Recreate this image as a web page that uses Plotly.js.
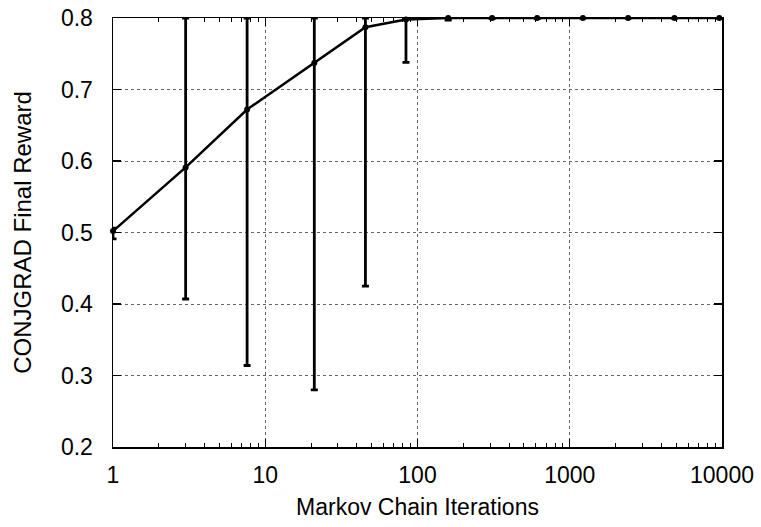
<!DOCTYPE html>
<html>
<head>
<meta charset="utf-8">
<script src="https://cdn.plot.ly/plotly-3.0.1.min.js"></script>
<style>html,body{margin:0;padding:0;background:#fff;overflow:hidden;}#chart{width:761px;height:527px;}</style>
</head>
<body>
<div id="chart"></div>
<script>
var iterations = [1, 3, 7.6, 21, 45.5, 84, 159, 309, 611, 1220, 2420, 4870, 9600];
var reward     = [0.502, 0.591, 0.672, 0.737, 0.787, 0.798, 0.800, 0.800, 0.800, 0.800, 0.800, 0.800, 0.800];
var rewardHigh = [0.506, 0.800, 0.800, 0.800, 0.800, 0.800, 0.800, 0.800, 0.800, 0.800, 0.800, 0.800, 0.800];
var rewardLow  = [0.491, 0.407, 0.314, 0.280, 0.425, 0.738, 0.797, 0.799, 0.799, 0.800, 0.800, 0.800, 0.800];
var yTicks = [0.2, 0.3, 0.4, 0.5, 0.6, 0.7, 0.8];
var yTickText = ["0.2", "0.3", "0.4", "0.5", "0.6", "0.7", "0.8"];
var xTicks = [1, 10, 100, 1000, 10000];
var xTickText = ["1", "10", "100", "1000", "10000"];

var plus = rewardHigh.map(function(v, i){ return Math.max(0, v - reward[i]); });
var minus = rewardLow.map(function(v, i){ return Math.max(0, reward[i] - v); });

// minor log ticks at 2..9 of each decade
var minorX = [];
[1, 10, 100, 1000].forEach(function(d){ for (var k = 2; k <= 9; k++) minorX.push(k * d); });

var FONT = "Liberation Sans, Arial, sans-serif";
var trace = {
  x: iterations, y: reward, type: 'scatter', mode: 'lines+markers',
  line: {color: '#000', width: 2.5},
  marker: {color: '#000', size: 6, symbol: 'circle'},
  error_y: {type: 'data', symmetric: false, array: plus, arrayminus: minus,
            color: '#000', thickness: 2.8, width: 3.5},
  cliponaxis: false, showlegend: false
};
var layout = {
  width: 761, height: 527,
  margin: {l: 113, r: 39, t: 18, b: 80},
  paper_bgcolor: '#fff', plot_bgcolor: '#fff',
  font: {family: FONT, size: 23, color: '#000'},
  showlegend: false,
  xaxis: {
    type: 'log', range: [0, 4],
    tickvals: xTicks, ticktext: xTickText,
    ticks: 'inside', ticklen: 8, tickwidth: 1.2, tickcolor: '#000',
    showline: true, linecolor: '#000', linewidth: 1.5, mirror: 'allticks',
    showgrid: true, gridcolor: '#666', griddash: 'dot', gridwidth: 1,
    zeroline: false,
    ticklabelstandoff: 7,
    minor: {tickmode: 'array', tickvals: minorX, ticks: 'inside', ticklen: 4, tickwidth: 1, tickcolor: '#000', showgrid: false},
    tickfont: {family: FONT, size: 23, color: '#000'},
    title: {text: 'Markov Chain Iterations', font: {family: FONT, size: 23, color: '#000'}, standoff: 12}
  },
  yaxis: {
    range: [0.2, 0.8],
    tickvals: yTicks, ticktext: yTickText,
    ticks: 'inside', ticklen: 8, tickwidth: 1.2, tickcolor: '#000',
    showline: true, linecolor: '#000', linewidth: 1.5, mirror: 'allticks',
    showgrid: true, gridcolor: '#666', griddash: 'dot', gridwidth: 1,
    zeroline: false,
    ticklabelstandoff: 14,
    tickfont: {family: FONT, size: 23, color: '#000'},
    title: {text: 'CONJGRAD Final Reward', font: {family: FONT, size: 24, color: '#000'}, standoff: 22}
  }
};
Plotly.newPlot('chart', [trace], layout, {staticPlot: true, displayModeBar: false});
</script>
</body>
</html>
